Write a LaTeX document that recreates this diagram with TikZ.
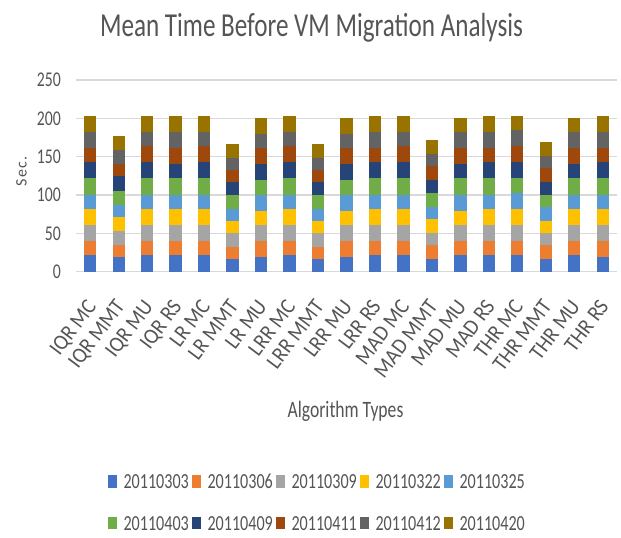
\documentclass[tikz,border=0pt]{standalone}
\usepackage{fontspec}
\setmainfont{Carlito}
\newfontfamily\chartfont{Carlito}[FakeStretch=0.75]
\newfontfamily\catfont{Carlito}[FakeStretch=0.92]
\newfontfamily\secfont{Carlito}[LetterSpace=8]
\definecolor{txt}{HTML}{555555}
\definecolor{gridc}{HTML}{D9D9D9}
\definecolor{ser1}{HTML}{4472C4}
\definecolor{ser2}{HTML}{ED7D31}
\definecolor{ser3}{HTML}{A5A5A5}
\definecolor{ser4}{HTML}{FFC000}
\definecolor{ser5}{HTML}{5B9BD5}
\definecolor{ser6}{HTML}{70AD47}
\definecolor{ser7}{HTML}{264478}
\definecolor{ser8}{HTML}{9E480E}
\definecolor{ser9}{HTML}{636363}
\definecolor{ser10}{HTML}{997300}
\tikzset{
  lbl/.style={text=txt, inner sep=0pt},
  gridln/.style={draw=gridc, line width=1.3pt},
}
\begin{document}
\begin{tikzpicture}[x=1pt,y=1pt]
  \useasboundingbox (0,0) rectangle (621,538);
  \node[lbl, anchor=base, font=\chartfont\fontsize{33.5}{36}\selectfont] (title) at (311.5,501.3) {Mean Time Before VM Migration Analysis};
  \node[lbl, rotate=90, font=\secfont\fontsize{16}{18}\selectfont] (ylab) at (21.5,366.5) {Sec.};
  \node[lbl, anchor=base, font=\chartfont\fontsize{23.5}{26}\selectfont] (xlab) at (345.5,120) {Algorithm Types};
  \begin{scope}[shift={(76,266.3)}, x=28.47pt, y=.7668pt]
    \foreach \v in {0,50,...,250} {
      \draw[gridln] (0,\v) -- (19,\v);
      \node[lbl, anchor=east, font=\chartfont\fontsize{21}{24}\selectfont] (tick\v) at (-.527,\v) {\v};
    }
    \foreach \name/\tops [count=\i] in {
        IQR MC/{21.7,40,60.8,82.1,100.4,121.7,142.5,161.7,182.5,203.4},
        IQR MMT/{18.7,34.8,53,71.7,87.4,105.6,124.3,140.4,158.6,176.9},
        IQR MU/{21.7,40,60.8,82.1,100.4,121.7,142.5,163.8,182.5,203.4},
        IQR RS/{21.7,40,60.8,82.1,100.4,121.7,139.9,161.7,182.5,203.4},
        LR MC/{21.7,40,60.8,82.1,100.4,121.7,142.5,163.8,182.5,203.4},
        LR MMT/{16.1,31.7,50.4,66.5,82.1,100.4,116.5,132.1,148.2,166.5},
        LR MU/{18.7,40,60.8,79.5,100.4,119.1,139.9,161.7,179.9,200.8},
        LRR MC/{21.7,40,60.8,82.1,100.4,121.7,142.5,163.8,182.5,203.4},
        LRR MMT/{16.1,31.7,50.4,66.5,82.1,100.4,116.5,132.1,148.2,166.5},
        LRR MU/{18.7,40,60.8,79.5,100.4,119.1,139.9,161.7,179.9,200.8},
        LRR RS/{21.7,40,60.8,82.1,100.4,121.7,142.5,161.7,182.5,203.4},
        MAD MC/{21.7,40,60.8,82.1,100.4,121.7,142.5,163.8,182.5,203.4},
        MAD MMT/{16.1,34.8,50.4,69.1,84.7,103,119.1,137.3,153.4,171.7},
        MAD MU/{21.7,40,60.8,79.5,100.4,121.7,139.9,161.7,182.5,200.8},
        MAD RS/{21.7,40,60.8,82.1,100.4,121.7,142.5,161.7,182.5,203.4},
        THR MC/{21.7,40,60.8,82.1,103,121.7,142.5,163.8,185.1,203.4},
        THR MMT/{16.1,34.8,50.4,66.5,84.7,100.4,116.5,134.7,150.8,169.5},
        THR MU/{21.7,40,60.8,82.1,100.4,121.7,139.9,161.7,182.5,200.8},
        THR RS/{18.7,40,60.8,82.1,100.4,121.7,142.5,161.7,182.5,203.4}} {
      \foreach \t [count=\k, remember=\t as \prev (initially 0)] in \tops
        \fill[fill=ser\k] (\i-.716,\prev) rectangle (\i-.284,\t);
      \node[lbl, rotate=53, anchor=north east, font=\catfont\fontsize{22}{24}\selectfont] (cat\i) at (\i-.66,-34.3) {\name};
    }
  \end{scope}
  \foreach \d [count=\k from 0] in {20110303,20110306,20110309,20110322,20110325,20110403,20110409,20110411,20110412,20110420} {
    \pgfmathtruncatemacro\col{mod(\k,5)}
    \pgfmathtruncatemacro\row{int(\k/5)}
    \pgfmathtruncatemacro\s{\k+1}
    \fill[fill=ser\s] (108.3+84*\col,50.2-41.6*\row) rectangle +(8.5,12.3);
    \node[lbl, anchor=west, font=\chartfont\fontsize{21.5}{24}\selectfont] (leg\s) at (123.3+84*\col,56.3-41.6*\row) {\d};
  }
\end{tikzpicture}
\end{document}
